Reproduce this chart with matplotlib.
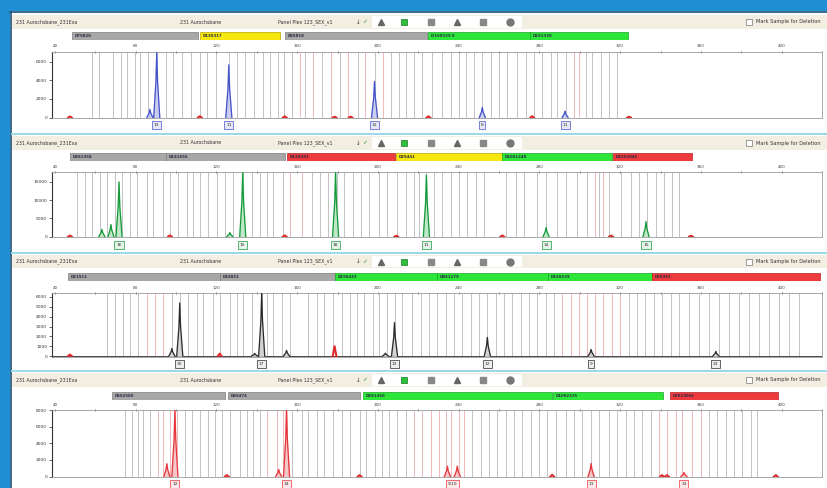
import matplotlib.pyplot as plt
from matplotlib.patches import Rectangle

W, H = 828, 488

# size scale shared by the four dye lanes (bp)
x_ticks = [40, 80, 120, 160, 200, 240, 280, 320, 360, 400]
x_lim = (38.5, 419.4)

sample_name = "231 Aurochsbane_231Exa"
run_name = "231 Aurochsbane"
panel_name = "Panel Plex 123_SEX_v1"
delete_label = "Mark Sample for Deletion"

# ---- blue dye ----
blue_loci = ["D7S820", "D13S317", "D5S818", "D16S539 E", "D2S1338"]
blue_locus_start = [48.4, 111.7, 153.8, 224.5, 274.9]
blue_locus_end = [110.7, 151.3, 224.0, 274.9, 323.4]
blue_locus_kind = ["gray", "yellow", "gray", "green", "green"]
blue_bins = [58.3, 61.8, 68.7, 72.6, 75.6, 79.6, 82.0, 86.0, 90.4, 94.9, 98.4,
             102.8, 107.3, 111.7, 115.2, 119.6, 126.1, 130.0, 134.0, 138.4,
             142.9, 146.3, 150.3, 153.3, 157.2, 163.7, 172.1, 181.0, 189.9,
             198.3, 206.7, 210.6, 214.1, 218.1, 222.0, 227.0, 231.9, 236.4,
             240.3, 243.8, 247.7, 251.7, 256.1, 260.1, 264.1, 269.0, 273.5,
             277.4, 281.4, 285.8, 288.8, 293.2, 303.1, 306.1, 310.6, 314.5, 318.5]
blue_bins_pink = [161.2, 167.6, 176.5, 185.4, 193.8, 202.7, 297.2, 299.7]
blue_peak_bp = [87.0, 90.4, 126.1, 198.3, 251.7, 292.7]
blue_peak_rfu = [880, 7000, 5640, 3870, 1080, 700]
blue_noise_bp = [47.4, 111.7, 153.8, 178.5, 186.4, 225.0, 276.4, 324.4]
blue_noise_rfu = [120, 150, 140, 100, 110, 140, 150, 100]
blue_call_bp = [90.4, 126.1, 198.3, 251.7, 292.7]
blue_call_text = ["13", "11", "12", "8", "11"]
blue_yticks = [0, 2000, 4000, 6000]
blue_ymax = 7050

# ---- green dye ----
green_loci = ["D3S1358", "D1S1656", "D12S391", "D2S441", "D10S1248", "D22S1045"]
green_locus_start = [47.4, 94.9, 154.7, 208.7, 261.1, 316.0]
green_locus_end = [94.9, 153.8, 208.2, 261.1, 315.5, 355.1]
green_locus_kind = ["gray", "gray", "red", "yellow", "green", "red"]
green_bins = [50.9, 54.8, 58.3, 62.3, 65.7, 69.7, 73.1, 77.1, 80.6, 85.5, 88.5,
              93.4, 96.9, 100.8, 105.3, 108.3, 111.7, 115.7, 120.1, 124.1, 128.0,
              133.0, 137.4, 141.4, 144.9, 147.8, 152.8, 167.1, 171.1, 175.0,
              179.5, 183.4, 187.4, 191.8, 195.8, 200.7, 204.7, 209.6, 214.1,
              218.1, 220.5, 224.0, 227.9, 231.9, 236.4, 240.3, 244.3, 248.7,
              252.7, 263.6, 268.5, 272.5, 278.9, 283.3, 288.8, 293.2, 298.7,
              303.6, 309.6, 314.5, 320.4, 325.4, 329.3, 333.3, 337.8, 341.7,
              345.7, 349.1]
green_bins_pink = [156.2, 162.2, 307.6, 311.5]
green_peak_bp = [63.2, 67.7, 71.7, 126.6, 133.0, 179.0, 224.0, 283.3, 332.8]
green_peak_rfu = [2000, 3300, 14950, 1100, 17600, 17600, 16800, 2500, 4100]
green_noise_bp = [47.4, 96.9, 153.8, 209.1, 261.6, 315.5, 355.1]
green_noise_rfu = [300, 350, 320, 250, 320, 300, 250]
green_call_bp = [71.7, 133.0, 179.0, 224.0, 283.3, 332.8]
green_call_text = ["16", "15", "18", "11", "14", "15"]
green_yticks = [0, 5000, 10000, 15000]
green_ymax = 17650

# ---- black dye ----
black_loci = ["D21S11", "D18S51", "D19S433", "D8S1179", "D16S539", "DYS391"]
black_locus_start = [46.4, 121.6, 178.5, 228.9, 283.8, 335.3]
black_locus_end = [121.6, 178.5, 228.9, 283.8, 335.3, 418.4]
black_locus_kind = ["gray", "gray", "green", "green", "green", "red"]
black_bins = [65.7, 69.7, 73.6, 77.1, 81.1, 97.9, 101.8, 105.8, 110.2, 113.2,
              118.1, 121.6, 126.6, 130.0, 133.0, 137.4, 142.4, 144.9, 147.8,
              152.3, 156.2, 165.1, 169.6, 173.5, 177.5, 182.0, 185.9, 189.4,
              193.3, 197.3, 200.7, 204.7, 208.2, 212.1, 217.1, 221.5, 225.5,
              229.4, 233.9, 237.8, 241.8, 246.2, 250.2, 254.2, 258.6, 262.6,
              266.5, 271.0, 274.9, 278.9, 283.3, 287.3, 324.4, 328.4, 332.3,
              336.8, 340.7, 345.2, 349.1, 354.1, 359.0, 364.0, 368.9, 373.8,
              378.8, 383.7, 388.7, 393.6, 398.6, 403.5, 408.5]
black_bins_pink = [85.5, 89.5, 93.4, 291.3, 295.7, 299.7, 303.6, 307.6, 311.5,
                   316.0, 320.0]
black_peak_bp = [97.9, 101.8, 138.9, 142.4, 154.7, 203.7, 208.2, 254.2, 305.6, 367.4]
black_peak_rfu = [770, 5400, 270, 6500, 570, 300, 3400, 1900, 670, 470]
black_noise_bp = [47.4, 121.6, 178.5]
black_noise_rfu = [150, 250, 1000]
black_call_bp = [101.8, 142.4, 208.2, 254.2, 305.6, 367.4]
black_call_text = ["30", "17", "13", "12", "9", "23"]
black_yticks = [0, 1000, 2000, 3000, 4000, 5000, 6000]
black_ymax = 6400

# ---- red dye ----
red_loci = ["D5S2500", "D6S474", "D2S1360", "D10S2325", "DYS19056"]
red_locus_start = [68.2, 125.6, 192.3, 286.3, 344.2]
red_locus_end = [124.1, 190.9, 285.8, 340.7, 397.6]
red_locus_kind = ["gray", "gray", "green", "green", "red"]
red_bins = [74.6, 78.1, 81.1, 83.5, 87.0, 104.3, 107.8, 111.7, 115.7, 119.1,
            122.6, 126.6, 131.5, 135.0, 137.9, 141.4, 157.2, 162.2, 165.1,
            169.6, 173.5, 177.5, 182.0, 185.9, 190.9, 194.3, 198.3, 202.2,
            205.7, 209.6, 214.1, 246.7, 251.2, 255.2, 259.1, 263.6, 267.5,
            271.5, 275.9, 279.9, 283.8, 288.3, 293.2, 297.2, 301.2, 305.6,
            309.6, 314.5, 318.5, 322.9, 326.9, 330.8, 335.3, 364.0, 367.9,
            372.4, 376.3, 380.3, 384.7, 387.7]
red_bins_pink = [90.9, 93.4, 96.9, 100.3, 144.9, 149.8, 152.8, 218.1, 222.0,
                 226.5, 230.4, 233.9, 236.4, 240.3, 242.8, 339.2, 343.2, 347.6,
                 350.6, 355.6, 360.0]
red_peak_bp = [95.4, 99.4, 150.8, 154.7, 234.4, 239.3, 305.6, 351.6]
red_peak_rfu = [1550, 8200, 870, 8200, 1260, 1260, 1580, 500]
red_noise_bp = [125.1, 190.9, 286.3, 340.7, 343.2, 397.1]
red_noise_rfu = [180, 180, 220, 180, 180, 180]
red_call_bp = [99.4, 154.7, 236.8, 305.6, 351.6]
red_call_text = ["12", "14", "9,10", "11", "13"]
red_yticks = [0, 2000, 4000, 6000, 8000]
red_ymax = 8000

locus_fill = {"gray": "#a7a7a7", "yellow": "#f6e70f", "green": "#2ee63a", "red": "#ee3b3d"}
locus_edge = {"gray": "#7d7d7d", "yellow": "#b8a800", "green": "#18a826", "red": "#b82022"}

lanes = [
    dict(loci=blue_loci, start=blue_locus_start, end=blue_locus_end, kind=blue_locus_kind,
         bins=blue_bins, pink=blue_bins_pink, pk=blue_peak_bp, rfu=blue_peak_rfu,
         nbp=blue_noise_bp, nrfu=blue_noise_rfu, cbp=blue_call_bp, ctxt=blue_call_text,
         yt=blue_yticks, ymax=blue_ymax, dye="#4553c8", light="#c9cdf0", box="#e6e8f8",
         head=(15, 29), bar=(32, 39.5), plot=(51.7, 118.3), lab=125),
    dict(loci=green_loci, start=green_locus_start, end=green_locus_end, kind=green_locus_kind,
         bins=green_bins, pink=green_bins_pink, pk=green_peak_bp, rfu=green_peak_rfu,
         nbp=green_noise_bp, nrfu=green_noise_rfu, cbp=green_call_bp, ctxt=green_call_text,
         yt=green_yticks, ymax=green_ymax, dye="#159a3a", light="#bfe8c8", box="#e8f5ea",
         head=(136, 150), bar=(153, 161), plot=(172, 237.3), lab=245),
    dict(loci=black_loci, start=black_locus_start, end=black_locus_end, kind=black_locus_kind,
         bins=black_bins, pink=black_bins_pink, pk=black_peak_bp, rfu=black_peak_rfu,
         nbp=black_noise_bp, nrfu=black_noise_rfu, cbp=black_call_bp, ctxt=black_call_text,
         yt=black_yticks, ymax=black_ymax, dye="#2a2a2a", light="#d4d4d4", box="#eeeeee",
         head=(255, 268), bar=(273, 280.5), plot=(293, 356.7), lab=364),
    dict(loci=red_loci, start=red_locus_start, end=red_locus_end, kind=red_locus_kind,
         bins=red_bins, pink=red_bins_pink, pk=red_peak_bp, rfu=red_peak_rfu,
         nbp=red_noise_bp, nrfu=red_noise_rfu, cbp=red_call_bp, ctxt=red_call_text,
         yt=red_yticks, ymax=red_ymax, dye="#e5363a", light="#f6c6c8", box="#fbe8e8",
         head=(373, 387), bar=(392, 399.5), plot=(410, 477.3), lab=484),
]

fig = plt.figure(figsize=(W / 100, H / 100), dpi=100)
fig.patch.set_facecolor("white")

# window chrome drawn in pixel units
bg = fig.add_axes([0, 0, 1, 1])
bg.set_xlim(0, W)
bg.set_ylim(H, 0)
bg.axis("off")
bg.add_patch(Rectangle((0, 0), W, 11, fc="#1d8fd2", ec="none"))
bg.add_patch(Rectangle((0, 0), 10, H, fc="#1d8fd2", ec="none"))
bg.plot([10, W], [12, 12], color="#1b4f78", lw=1.2)
bg.plot([11, 11], [12, H], color="#1b4f78", lw=1.2)

for i, ln in enumerate(lanes):
    top, bot = ln["head"]
    if i > 0:
        bg.plot([12, W], [top - 2, top - 2], color="#9ad8e8", lw=1.4)
    bg.add_patch(Rectangle((12, top), W - 12, bot - top, fc="#f3eee2", ec="none"))
    mid = (top + bot) / 2
    bg.text(16, mid, sample_name, fontsize=3.4, color="#333", va="center")
    bg.text(180, mid, run_name, fontsize=3.4, color="#333", va="center")
    bg.text(278, mid, panel_name, fontsize=3.4, color="#333", va="center")
    bg.text(356, mid, "\u2193", fontsize=4, color="#333", va="center")
    bg.text(362, mid, "\u2713", fontsize=4.5, color="#3a9a3a", va="center")
    bg.add_patch(Rectangle((372, top + 1), 150, bot - top - 2, fc="white", ec="none"))
    bg.plot(381, mid, marker="^", ms=4.5, color="#666")
    bg.plot(404, mid, marker="s", ms=4.5, color="#2fbf3a", mec="#1a7a22", mew=0.5)
    bg.plot(431, mid, marker="s", ms=4.2, color="#888")
    bg.plot(457, mid, marker="^", ms=4.5, color="#666")
    bg.plot(483, mid, marker="s", ms=4.2, color="#888")
    bg.plot(510, mid, marker="o", ms=5, color="#777")
    bg.add_patch(Rectangle((746, mid - 3), 6, 6, fc="white", ec="#777", lw=0.5))
    bg.text(756, mid, delete_label, fontsize=3.6, color="#333", va="center")

for ln in lanes:
    # locus bars above the trace
    b0, b1 = ln["bar"]
    axb = fig.add_axes([52 / W, 1 - b1 / H, 770 / W, (b1 - b0) / H])
    axb.set_xlim(*x_lim)
    axb.set_ylim(0, 1)
    axb.axis("off")
    for name, s, e, k in zip(ln["loci"], ln["start"], ln["end"], ln["kind"]):
        axb.add_patch(Rectangle((s, 0), e - s, 1, fc=locus_fill[k], ec=locus_edge[k], lw=0.5))
        axb.text(s + 1.5, 0.5, name, fontsize=2.8, fontweight="bold", color="#2a2a44",
                 va="center", ha="left")

    # electropherogram trace
    p0, p1 = ln["plot"]
    ax = fig.add_axes([52 / W, 1 - p1 / H, 770 / W, (p1 - p0) / H])
    ymax = ln["ymax"]
    ax.set_xlim(*x_lim)
    ax.set_ylim(-ymax * 0.01, ymax)
    ax.vlines(ln["bins"], 0, ymax, colors="#c2c2c2", lw=0.7, zorder=1)
    ax.vlines(ln["pink"], 0, ymax, colors="#f1b9b9", lw=0.7, zorder=1)
    ax.axhline(0, color=ln["dye"], lw=0.6, zorder=2)
    for p, h in zip(ln["pk"], ln["rfu"]):
        xs = [p - 1.5, p - 0.4, p, p + 0.4, p + 1.5]
        ys = [0, h * 0.55, h, h * 0.55, 0]
        ax.fill(xs, ys, color=ln["light"], zorder=3)
        ax.plot(xs, ys, color=ln["dye"], lw=0.9, zorder=4)
    for p, h in zip(ln["nbp"], ln["nrfu"]):
        ax.plot([p - 0.9, p, p + 0.9], [0, h, 0], color="#e02a2a", lw=1.5, zorder=4)

    for side in ["top", "right", "bottom"]:
        ax.spines[side].set_color("#9a9a9a")
        ax.spines[side].set_linewidth(0.6)
    ax.spines["left"].set_color("#333")
    ax.spines["left"].set_linewidth(0.8)

    ax.xaxis.tick_top()
    ax.set_xticks(x_ticks)
    ax.set_xticks([t + 20 for t in x_ticks], minor=True)
    ax.set_xticklabels([str(t) for t in x_ticks])
    ax.tick_params(axis="x", which="both", labelsize=3, length=1.8, width=0.5,
                   pad=1.5, colors="#444", direction="inout")
    ax.set_yticks(ln["yt"])
    ax.set_yticklabels([str(t) for t in ln["yt"]])
    ax.tick_params(axis="y", labelsize=3.2, length=2, width=0.5, pad=1.5, colors="#333")

    # allele call boxes under the called peaks
    ylab = -(ln["lab"] - p1) / (p1 - p0)
    for p, t in zip(ln["cbp"], ln["ctxt"]):
        ax.text(p, ylab, t, transform=ax.get_xaxis_transform(), fontsize=3.2,
                ha="center", va="center", color="#333", clip_on=False,
                bbox=dict(boxstyle="square,pad=0.4", fc=ln["box"], ec=ln["dye"], lw=0.5))

fig.savefig("out.png", dpi=100)
